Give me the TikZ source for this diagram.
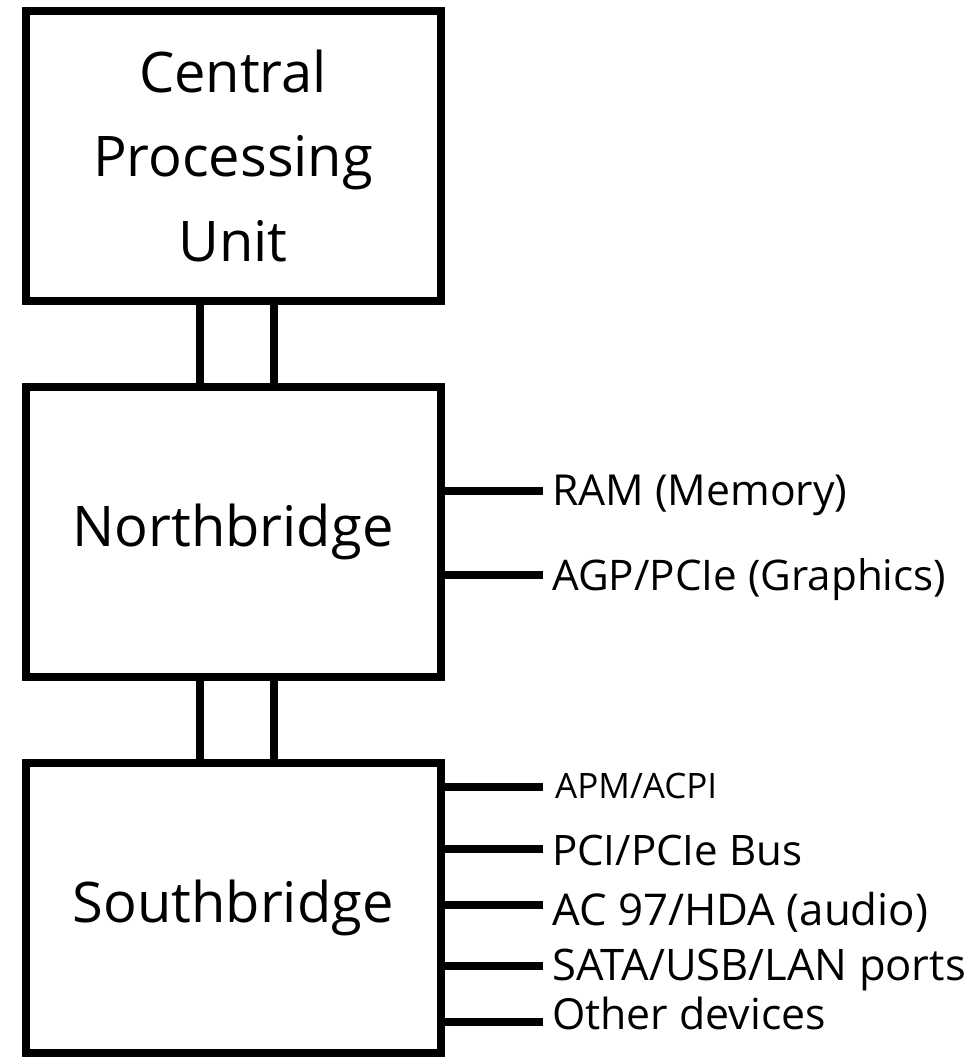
\documentclass[tikz,border=0pt]{standalone}
\usepackage{fontspec}
\setmainfont{Open Sans}
\begin{document}
\begin{tikzpicture}[x=1pt,y=-1pt,
  chip/.style={draw=black,line width=8pt,minimum width=415pt,minimum height=290pt,
    inner sep=0pt,align=center,font=\fontsize{56}{84.5}\selectfont},
  bus/.style={line width=8pt},
  port/.style={line width=7.5pt},
  lbl/.style={anchor=base west,inner sep=0pt,font=\fontsize{#1}{50}\selectfont},
  lbl/.default=42]
\useasboundingbox (0,0) rectangle (979,1061);
\node[chip] (cpu) at (233,155.5) {Central\\Processing\\Unit};
\node[chip] (nb) at (233,532.25) {Northbridge};
\node[chip] (sb) at (233,908.25) {Southbridge};
% buses between chips
\draw[bus] ([xshift=-33pt]cpu.south) -- ([xshift=-33pt]nb.north);
\draw[bus] ([xshift=41pt]cpu.south) -- ([xshift=41pt]nb.north);
\draw[bus] ([xshift=-33pt]nb.south) -- ([xshift=-33pt]sb.north);
\draw[bus] ([xshift=41pt]nb.south) -- ([xshift=41pt]sb.north);
% northbridge ports
\coordinate (ramend) at (543,491);
\coordinate (agpend) at (543,575);
\draw[port] (nb.east |- ramend) -- (ramend);
\draw[port] (nb.east |- agpend) -- (agpend);
\node[lbl=42.7] (ram) at (552,505) {RAM (Memory)};
\node[lbl=42.2] (agp) at (552,590) {AGP/PCIe (Graphics)};
% southbridge ports
\coordinate (apmend) at (543,787);
\coordinate (pciend) at (543,849);
\coordinate (acend) at (543,905);
\coordinate (sataend) at (543,966);
\coordinate (othend) at (543,1022);
\draw[port] (sb.east |- apmend) -- (apmend);
\draw[port] (sb.east |- pciend) -- (pciend);
\draw[port] (sb.east |- acend) -- (acend);
\draw[port] (sb.east |- sataend) -- (sataend);
\draw[port] (sb.east |- othend) -- (othend);
\node[lbl=35] (apm) at (555,798) {APM/ACPI};
\node[lbl=42] (pci) at (552,865) {PCI/PCIe Bus};
\node[lbl=43.8] (ac) at (552,925) {AC 97/HDA (audio)};
\node[lbl=43.5] (sata) at (552,980) {SATA/USB/LAN ports};
\node[lbl=42.8] (oth) at (552,1029) {Other devices};
\end{tikzpicture}
\end{document}
